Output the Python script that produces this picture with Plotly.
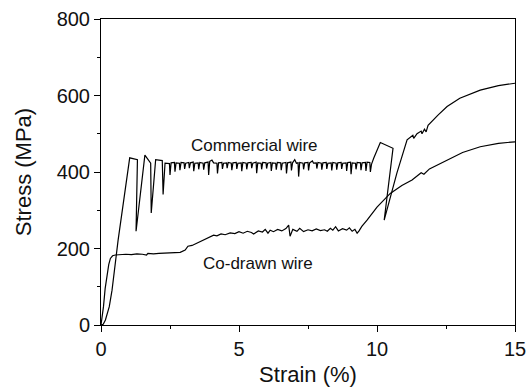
import plotly.graph_objects as go

# Commercial wire (strain %, stress MPa)
com_x = [0, 0.08, 0.16, 0.23, 0.30, 0.40, 0.49, 0.62, 1.04, 1.32, 1.27, 1.59, 1.80, 1.82, 1.98, 2.22, 2.25, 2.32,
         2.48, 2.50, 2.54, 2.66, 2.68, 2.72, 2.84, 2.86, 2.90, 3.01, 3.03, 3.07, 3.18, 3.20, 3.24,
         3.34, 3.36, 3.40, 3.52, 3.54, 3.58, 3.70, 3.72, 3.76, 3.88, 3.90, 3.94, 4.02, 4.08,
         4.20, 4.22, 4.26, 4.38, 4.40, 4.44, 4.55, 4.57, 4.61, 4.72, 4.74, 4.78, 4.90, 4.92, 4.96,
         5.08, 5.10, 5.14, 5.26, 5.28, 5.32, 5.44, 5.46, 5.50, 5.62, 5.64, 5.68, 5.80, 5.82, 5.86,
         5.98, 6.00, 6.04, 6.15, 6.17, 6.21, 6.33, 6.35, 6.39, 6.51, 6.53, 6.57, 6.70, 6.72, 6.76,
         6.88, 6.90, 6.94, 7.02, 7.08, 7.14, 7.16, 7.20, 7.32, 7.34, 7.38, 7.50, 7.52, 7.56, 7.66, 7.70,
         7.80, 7.82, 7.86, 7.98, 8.00, 8.04, 8.16, 8.18, 8.22, 8.34, 8.36, 8.40, 8.52, 8.54, 8.58,
         8.70, 8.72, 8.76, 8.88, 8.90, 8.94, 9.04, 9.06, 9.10, 9.22, 9.24, 9.28, 9.40, 9.42, 9.46,
         9.58, 9.60, 9.64, 9.74, 9.76, 9.80, 9.88, 10.12, 10.58, 10.26, 10.72, 11.09, 11.30, 11.33,
         11.45, 11.60, 11.63, 11.72, 11.78, 11.85, 12.20, 12.54, 13.00, 13.74, 14.40, 15.00]
com_y = [0, 2, 13, 28, 48, 91, 152, 222, 437, 432, 245, 444, 423, 293, 432, 430, 341, 423,
         422, 392, 424, 425, 401, 424, 423, 405, 425, 424, 408, 423, 425, 410, 424,
         426, 402, 423, 424, 407, 425, 423, 406, 424, 426, 392, 428, 431, 424,
         423, 396, 424, 425, 408, 423, 424, 410, 425, 423, 405, 424, 425, 408, 423,
         424, 402, 425, 423, 407, 424, 425, 410, 423, 426, 397, 424, 423, 407, 425,
         424, 409, 423, 425, 403, 424, 423, 406, 425, 424, 405, 423, 425, 396, 424,
         426, 404, 424, 432, 423, 424, 388, 425, 423, 407, 424, 425, 404, 424, 429, 423,
         424, 409, 425, 423, 406, 424, 425, 408, 423, 424, 404, 425, 423, 406, 424,
         425, 408, 423, 424, 403, 425, 426, 394, 424, 423, 407, 425, 424, 405, 424,
         425, 403, 426, 425, 400, 420, 436, 477, 462, 274, 397, 484, 496, 488,
         500, 507, 500, 512, 505, 522, 548, 571, 593, 614, 626, 632]

# Co-drawn wire (strain %, stress MPa)
co_x = [0, 0.04, 0.09, 0.15, 0.22, 0.28, 0.34, 0.42, 0.52, 0.70, 0.90, 1.10, 1.30, 1.50, 1.65, 1.70,
        1.90, 2.10, 2.30, 2.51, 2.70, 2.87, 3.05, 3.15, 3.30, 3.48, 3.60, 3.75, 3.90, 4.08, 4.20,
        4.35, 4.50, 4.68, 4.85, 5.00, 5.15, 5.30, 5.45, 5.53, 5.70, 5.85, 5.95, 6.05, 6.13, 6.25,
        6.40, 6.55, 6.70, 6.80, 6.85, 6.95, 7.10, 7.20, 7.34, 7.50, 7.65, 7.80, 7.95, 8.10, 8.20,
        8.31, 8.40, 8.50, 8.60, 8.75, 8.90, 9.00, 9.10, 9.20, 9.28, 9.35, 9.45, 9.64, 10.00, 10.48,
        10.90, 11.27, 11.60, 11.70, 11.90, 12.54, 13.10, 13.74, 14.40, 15.00]
co_y = [0, 20, 48, 95, 135, 158, 174, 181, 183, 184, 185, 184, 186, 185, 183, 187,
        186, 187, 188, 189, 190, 190, 196, 206, 208, 214, 219, 224, 227, 235, 233,
        238, 236, 241, 239, 244, 240, 245, 242, 238, 246, 243, 250, 240, 248, 244,
        250, 246, 252, 261, 232, 250, 245, 253, 244, 249, 246, 251, 247, 249, 245,
        253, 248, 257, 246, 252, 248, 254, 245, 250, 240, 246, 258, 274, 308, 344,
        365, 379, 398, 394, 408, 431, 451, 466, 475, 479]

labels = ["Commercial wire", "Co-drawn wire"]
label_x = [5.56, 5.70]
label_y = [468, 162]

FONT = "Arial, Liberation Sans, sans-serif"

fig = go.Figure()
fig.add_trace(go.Scatter(x=com_x, y=com_y, mode="lines", line=dict(color="black", width=1.2), name=labels[0]))
fig.add_trace(go.Scatter(x=co_x, y=co_y, mode="lines", line=dict(color="black", width=1.2), name=labels[1]))

for t, lx, ly in zip(labels, label_x, label_y):
    fig.add_annotation(x=lx, y=ly, text=t, showarrow=False, font=dict(family=FONT, size=17, color="#111"))

axis_common = dict(
    showgrid=False, zeroline=False, showline=True, linecolor="black", linewidth=1,
    mirror=True, ticks="outside", ticklen=6, tickwidth=1, tickcolor="black",
    tickfont=dict(family=FONT, size=20, color="#111"), automargin=False,
)
fig.update_xaxes(range=[0, 15], dtick=5, tick0=0,
                 minor=dict(ticks="outside", ticklen=3, dtick=2.5, tickcolor="black"),
                 title=dict(text="Strain (%)", font=dict(family=FONT, size=22, color="#111"), standoff=9),
                 **axis_common)
fig.update_yaxes(range=[0, 800], dtick=200, tick0=0,
                 minor=dict(ticks="outside", ticklen=3, dtick=100, tickcolor="black"),
                 title=dict(text="Stress (MPa)", font=dict(family=FONT, size=22, color="#111"), standoff=18),
                 **axis_common)

fig.update_layout(
    width=529, height=387,
    margin=dict(l=101, r=14, t=19, b=62),
    plot_bgcolor="white", paper_bgcolor="white",
    showlegend=False,
)
fig.write_html("out.html")
